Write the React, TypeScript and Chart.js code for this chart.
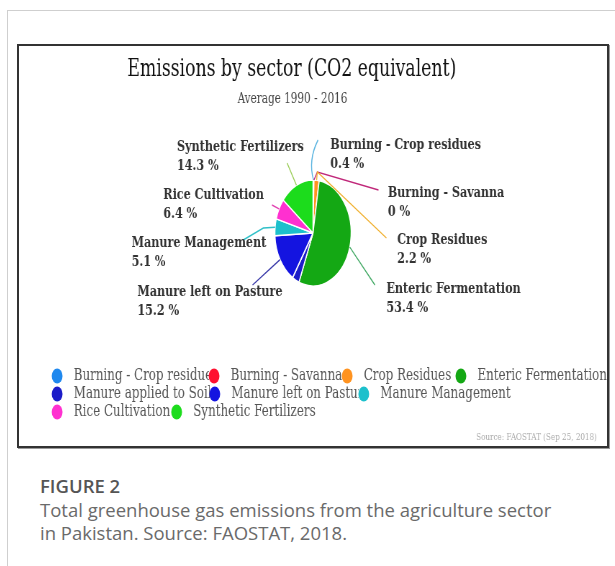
import React, { useEffect, useRef } from 'react';
import { Chart, registerables } from 'chart.js';

Chart.register(...registerables);

// ---------- data ----------
const categories = [
  'Burning - Crop residues',
  'Burning - Savanna',
  'Crop Residues',
  'Enteric Fermentation',
  'Manure applied to Soils',
  'Manure left on Pasture',
  'Manure Management',
  'Rice Cultivation',
  'Synthetic Fertilizers',
];
const values = [0.4, 0, 2.2, 53.4, 3.0, 15.2, 5.1, 6.4, 14.3];
const sliceColors = [
  '#1f88ee', '#ff1030', '#ff9320', '#14a814', '#1c1cc8',
  '#1414e0', '#1cc0cc', '#ff30d0', '#1cdc1c',
];
const lineColors = [
  '#5ab4e0', '#c0287a', '#f0b030', '#44aa66', '#3838a8',
  '#3838a8', '#30c0c8', '#e040b0', '#99cc55',
];
const titleText = 'Emissions by sector (CO2 equivalent)';
const subtitleText = 'Average 1990 - 2016';
const sourceText = 'Source: FAOSTAT (Sep 25, 2018)';

// ---------- layout (unsquashed canvas px) ----------
const SCALE_X = 0.72;
const CANVAS_W = Math.round(588 / SCALE_X);
const CANVAS_H = 400;
const TITLE_POS = { x: 379, y: 24 };
const SUBTITLE_POS = { x: 380, y: 53 };
const SOURCE_POS = { x: 803, y: 391 };

type LabelLayout = { tx: number; ty: number; path: number[][]; curve?: boolean };
const labelLayout: Record<string, LabelLayout> = {
  'Burning - Crop residues': { tx: 24, ty: -88, path: [[-7, -73], [7, -93]], curve: true },
  'Burning - Savanna': { tx: 104, ty: -40, path: [[6, -61], [91, -43]] },
  'Crop Residues': { tx: 117, ty: 7, path: [[6, -61], [102, 5]] },
  'Enteric Fermentation': { tx: 102, ty: 56, path: [[86, 52]] },
  'Manure left on Pasture': { tx: -244, ty: 59, path: [[-84, 52]] },
  'Manure Management': { tx: -252, ty: 10, path: [[-69, -5], [-97, 7]] },
  'Rice Cultivation': { tx: -208, ty: -38, path: [[-57, -28]] },
  'Synthetic Fertilizers': { tx: -189, ty: -86, path: [[-36, -70]] },
};

const legendRows: { i: number; x: number }[][] = [
  [{ i: 0, x: 53 }, { i: 1, x: 271 }, { i: 2, x: 456 }, { i: 3, x: 614 }],
  [{ i: 4, x: 53 }, { i: 5, x: 272 }, { i: 6, x: 479 }],
  [{ i: 7, x: 53 }, { i: 8, x: 219 }],
];
const legendRowY = [330, 348, 366];

const annotPlugin = {
  id: 'annot',
  afterDraw(chart: any) {
    const ctx: CanvasRenderingContext2D = chart.ctx;
    const meta = chart.getDatasetMeta(0);
    ctx.save();

    // title + subtitle
    ctx.textAlign = 'center';
    ctx.textBaseline = 'middle';
    ctx.fillStyle = '#111';
    ctx.font = '24px "DejaVu Serif"';
    ctx.fillText(titleText, TITLE_POS.x, TITLE_POS.y);
    ctx.fillStyle = '#444';
    ctx.font = '14.5px "DejaVu Serif"';
    ctx.fillText(subtitleText, SUBTITLE_POS.x, SUBTITLE_POS.y);

    // leader lines and data labels
    meta.data.forEach((arc: any, i: number) => {
      const lay = labelLayout[categories[i]];
      if (!lay) return;
      const p = arc.getProps(['x', 'y', 'startAngle', 'endAngle', 'outerRadius'], true);
      const mid = (p.startAngle + p.endAngle) / 2;
      const ex = p.x + Math.cos(mid) * p.outerRadius;
      const ey = p.y + Math.sin(mid) * p.outerRadius;
      const pts = lay.path.map(([dx, dy]) => [p.x + dx, p.y + dy]);
      ctx.beginPath();
      ctx.moveTo(ex, ey);
      if (lay.curve && pts.length === 2) {
        ctx.quadraticCurveTo(pts[0][0], pts[0][1], pts[1][0], pts[1][1]);
      } else {
        pts.forEach((q) => ctx.lineTo(q[0], q[1]));
      }
      ctx.strokeStyle = lineColors[i];
      ctx.lineWidth = 1.4;
      ctx.stroke();

      ctx.fillStyle = '#333';
      ctx.font = 'bold 15.5px "DejaVu Serif"';
      ctx.textAlign = 'left';
      ctx.textBaseline = 'middle';
      ctx.fillText(categories[i], p.x + lay.tx, p.y + lay.ty);
      ctx.fillText(`${values[i]} %`, p.x + lay.tx, p.y + lay.ty + 19);
    });

    // legend
    ctx.font = '16.5px "DejaVu Serif"';
    ctx.textAlign = 'left';
    ctx.textBaseline = 'middle';
    legendRows.forEach((row, r) => {
      const y = legendRowY[r];
      row.forEach((item, k) => {
        const next = row[k + 1];
        const clipRight = next ? next.x - 7 : chart.width;
        ctx.save();
        ctx.beginPath();
        ctx.rect(item.x, y - 14, clipRight - item.x, 28);
        ctx.clip();
        ctx.fillStyle = '#555';
        ctx.fillText(categories[item.i], item.x + 23, y);
        ctx.restore();
      });
      row.forEach((item) => {
        ctx.beginPath();
        ctx.arc(item.x, y, 7.5, 0, Math.PI * 2);
        ctx.fillStyle = sliceColors[item.i];
        ctx.fill();
      });
    });

    // source
    ctx.textAlign = 'right';
    ctx.fillStyle = '#aaa';
    ctx.font = '10px "DejaVu Serif"';
    ctx.fillText(sourceText, SOURCE_POS.x, SOURCE_POS.y);

    ctx.restore();
  },
};

export default function App() {
  const ref = useRef<HTMLCanvasElement>(null);

  useEffect(() => {
    document.body.style.overflow = 'hidden';
    const chart = new Chart(ref.current as HTMLCanvasElement, {
      type: 'pie',
      data: {
        labels: categories,
        datasets: [
          {
            data: values,
            backgroundColor: sliceColors,
            borderColor: '#ffffff',
            borderWidth: 1.5,
            radius: 53,
          } as any,
        ],
      },
      options: {
        animation: false,
        responsive: true,
        maintainAspectRatio: false,
        layout: { padding: { top: 60, bottom: 86, left: 0, right: 0 } },
        plugins: {
          legend: { display: false },
          tooltip: { enabled: false },
          title: { display: false },
        },
      },
      plugins: [annotPlugin],
    });
    return () => chart.destroy();
  }, []);

  return (
    <div
      style={{
        position: 'absolute',
        left: 7,
        top: 10,
        width: 607,
        height: 555,
        borderLeft: '1px solid #cfcfcf',
        borderTop: '1px solid #cfcfcf',
        background: '#fff',
        overflow: 'hidden',
      }}
    >
      <div
        style={{
          position: 'absolute',
          left: 9,
          top: 33,
          width: 588,
          height: CANVAS_H,
          border: '2px solid #333',
          boxShadow: '1px 1px 0 #999',
          overflow: 'hidden',
          background: '#fff',
        }}
      >
        <div
          style={{
            width: CANVAS_W,
            height: CANVAS_H,
            transform: `scaleX(${588 / CANVAS_W})`,
            transformOrigin: '0 0',
          }}
        >
          <canvas ref={ref} />
        </div>
      </div>
      <div
        style={{
          position: 'absolute',
          left: 32,
          top: 463,
          width: 525,
          fontFamily: '"Open Sans", sans-serif',
          fontSize: 18.5,
          color: '#6a6a6a',
        }}
      >
        <div style={{ lineHeight: '24px', fontWeight: 600, color: '#555' }}>FIGURE 2</div>
        <div style={{ lineHeight: '23px' }}>
          Total greenhouse gas emissions from the agriculture sector in Pakistan. Source:
          FAOSTAT, 2018.
        </div>
      </div>
    </div>
  );
}
